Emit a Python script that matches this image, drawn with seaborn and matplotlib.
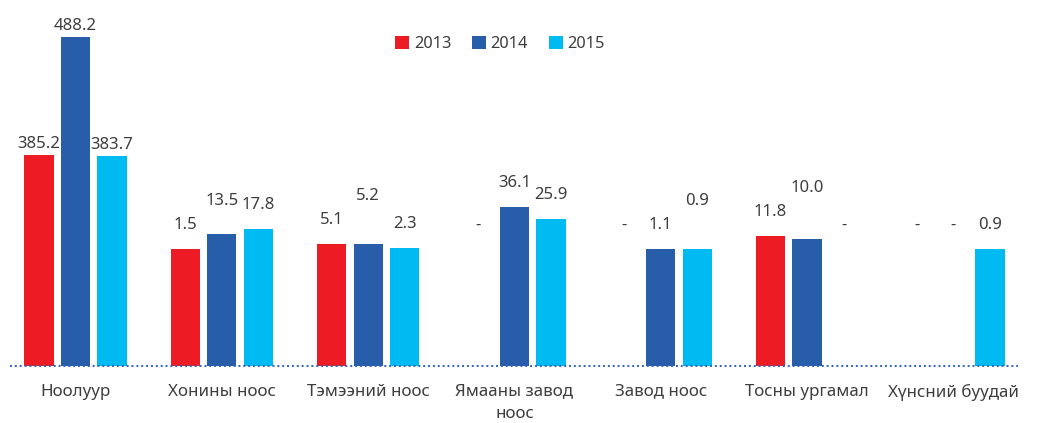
import numpy as np
import pandas as pd
import matplotlib
matplotlib.use("Agg")
import matplotlib.pyplot as plt
import seaborn as sns

categories = ["Ноолуур", "Хонины ноос", "Тэмээний ноос", "Ямааны завод\nноос",
              "Завод ноос", "Тосны ургамал", "Хүнсний буудай"]
years = ["2013", "2014", "2015"]
v2013 = [385.2, 1.5, 5.1, np.nan, np.nan, 11.8, np.nan]
v2014 = [488.2, 13.5, 5.2, 36.1, 1.1, 10.0, np.nan]
v2015 = [383.7, 17.8, 2.3, 25.9, 0.9, np.nan, 0.9]
colors = ["#ED1C24", "#285DAA", "#00BAF2"]

series = {"2013": v2013, "2014": v2014, "2015": v2015}
rows = []
for y in years:
    for c, v in zip(categories, series[y]):
        rows.append({"cat": c, "year": y, "value": v})
df = pd.DataFrame(rows)

sns.set_theme(style="white")
plt.rcParams['font.family'] = ['Noto Sans', 'DejaVu Sans']
TXT = "#3d3d3d"

W, H = 1044, 423
fig = plt.figure(figsize=(W / 100, H / 100), dpi=100)
base_px = 365.5
ax = fig.add_axes([10 / W, (H - base_px) / H, 1008 / W, base_px / H])

sns.barplot(data=df, x="cat", y="value", hue="year", order=categories,
            hue_order=years, palette=colors, width=0.75, gap=0.2,
            dodge=True, errorbar=None, ax=ax, legend=True, linewidth=0,
            saturation=1)

# broken-style value scale (value -> pixel height), as in the original chart
kv = np.array([0.0, 0.02, 40.0, 380.0, 500.0, 5000.0])
kh = np.array([0.0, 115.0, 163.0, 205.0, 342.0, 342.0 + 4500 * 1.1417])

def fwd(v):
    return np.interp(np.asarray(v, float), kv, kh)

def inv(h):
    return np.interp(np.asarray(h, float), kh, kv)

ax.set_yscale("function", functions=(fwd, inv))
ax.set_ylim(0, inv(base_px))
ax.set_xlim(-0.448, 6.442)

# value labels
slot = 0.25
for ci in range(len(categories)):
    prev_y, prev_raised = None, False
    for hi, y in enumerate(years):
        v = series[y][ci]
        x = ci + (hi - 1) * slot
        if np.isnan(v):
            ax.text(x, inv(137), "-", ha="center", va="baseline",
                    fontsize=12, color=TXT)
            prev_y, prev_raised = None, False
            continue
        h = float(fwd(v))
        yl = h + (7 if h > 200 else 20)
        raised = False
        if prev_y is not None and not prev_raised and -5 < yl - prev_y < 16:
            yl = prev_y + 24
            raised = True
        ax.text(x, inv(yl), f"{v:.1f}", ha="center", va="baseline",
                fontsize=12, color=TXT)
        prev_y, prev_raised = yl, raised

# dotted baseline
ax.axhline(0, color="#2E62C4", linestyle=(0, (1, 1.5)), linewidth=1.4,
           clip_on=False)

for s in ax.spines.values():
    s.set_visible(False)
ax.set_yticks([])
ax.set_ylabel("")
ax.set_xlabel("")
ax.set_xticks(range(len(categories)))
ax.set_xticklabels(categories, fontsize=12.2, color=TXT, linespacing=1.5,
                   va="top")
ax.tick_params(axis="x", length=0, pad=13)

leg = ax.get_legend()
handles = leg.legend_handles
ax.legend(handles=handles, labels=years, loc="center",
          bbox_transform=fig.transFigure,
          bbox_to_anchor=(500 / W, 1 - 44 / H), ncol=3, frameon=False,
          fontsize=11.8, handlelength=0.85, handleheight=0.85,
          handletextpad=0.3, columnspacing=1.25, labelcolor=TXT)

fig.savefig("out.png", dpi=100, facecolor="white")
